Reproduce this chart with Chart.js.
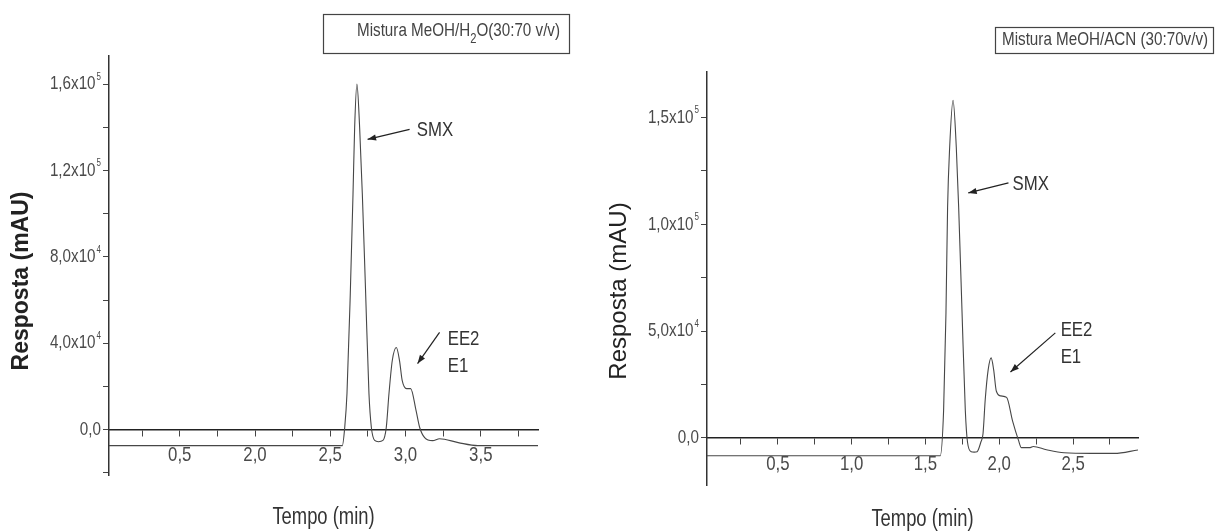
<!DOCTYPE html>
<html>
<head>
<meta charset="utf-8">
<script src="https://cdn.jsdelivr.net/npm/chart.js@4.4.1/dist/chart.umd.min.js"></script>
<style>
  body { margin: 0; background: #fff; }
  .wrap { position: absolute; top: 0; height: 531px; }
  #h2o-wrap { left: 0; width: 600px; }
  #acn-wrap { left: 600px; width: 615px; }
</style>
</head>
<body>
<div class="wrap" id="h2o-wrap"><canvas id="h2o-chart"></canvas></div>
<div class="wrap" id="acn-wrap"><canvas id="acn-chart"></canvas></div>
<script>
// MeOH/H2O run (left)
const timeH2O = [1.03, 2.58, 2.596, 2.611, 2.633, 2.651, 2.662, 2.677, 2.695, 2.713, 2.735, 2.757, 2.773,
  2.795, 2.82, 2.85, 2.872, 2.89, 2.912, 2.939, 2.96, 2.978, 3.007, 3.034, 3.07, 3.094, 3.127,
  3.18, 3.226, 3.35, 3.48, 3.88];
const respH2O = [-7400, -7400, 1000, 16700, 63000, 109000, 140000, 160000, 140000, 109000, 63000, 16700, 1000,
  -5000, -5600, -5000, 1000, 16700, 32000, 38000, 32000, 22700, 19000, 19000, 8800, 1000, -3700,
  -5100, -4200, -6000, -7400, -7400];
const xTicksH2O = [1.5, 2.0, 2.5, 3.0, 3.5];
const xLabelsH2O = ["0,5", "2,0", "2,5", "3,0", "3,5"];
const yTicksH2O = [0, 40000, 80000, 120000, 160000];
const yLabelsH2O = ["0,0", "4,0x10^4", "8,0x10^4", "1,2x10^5", "1,6x10^5"];

// MeOH/ACN run (right)
const timeACN = [0.02, 1.60, 1.623, 1.639, 1.650, 1.664, 1.687, 1.709, 1.725, 1.748, 1.77, 1.785, 1.81,
  1.83, 1.85, 1.875, 1.89, 1.905, 1.925, 1.945, 1.962, 1.98, 2.01, 2.05, 2.09, 2.13, 2.15, 2.21,
  2.23, 2.32, 2.44, 2.62, 2.78, 2.94];
const respACN = [-8300, -8300, 13000, 58500, 108000, 136000, 158000, 136000, 108000, 58500, 13000, -2000, -6400,
  -6600, -6400, -2000, 2000, 18000, 32000, 37500, 32000, 22000, 19700, 19000, 8000, -1000, -4500, -4500,
  -4000, -5500, -6900, -7200, -7200, -5600];
const xTicksACN = [0.5, 1.0, 1.5, 2.0, 2.5];
const xLabelsACN = ["0,5", "1,0", "1,5", "2,0", "2,5"];
const yTicksACN = [0, 50000, 100000, 150000];
const yLabelsACN = ["0,0", "5,0x10^4", "1,0x10^5", "1,5x10^5"];

const ARIAL = "'Liberation Sans', Arial, sans-serif";

// majors plus a minor tick halfway between each pair, kept inside the axis range
function withMinors(majors, min, max) {
  const step = majors[1] - majors[0];
  const out = [];
  majors.forEach(v => { out.push(v - step / 2); out.push(v); });
  out.push(majors[majors.length - 1] + step / 2);
  return out.filter(v => v >= min && v <= max);
}

// condensed text (the original uses a narrow face)
function narrow(ctx, text, x, y, size, align) {
  ctx.save();
  ctx.translate(x, y);
  ctx.scale(0.8, 1);
  ctx.font = size + "px " + ARIAL;
  ctx.textAlign = align;
  ctx.textBaseline = "middle";
  ctx.fillText(text, 0, 0);
  const w = ctx.measureText(text).width * 0.8;
  ctx.restore();
  return w;
}

function textWidth(ctx, text, size) {
  ctx.save();
  ctx.font = size + "px " + ARIAL;
  const w = ctx.measureText(text).width * 0.8;
  ctx.restore();
  return w;
}

const overlay = {
  id: "overlay",
  afterDraw(chart, args, o) {
    const { ctx, chartArea } = chart;
    const xs = chart.scales.x, ys = chart.scales.y;
    ctx.save();

    // tick labels
    ctx.fillStyle = "#4a4a4a";
    const zeroY = ys.getPixelForValue(0);
    o.xTicks.forEach((v, i) => {
      narrow(ctx, o.xLabels[i], xs.getPixelForValue(v), zeroY + 26, 21, "center");
    });
    o.yTicks.forEach((v, i) => {
      const [base, exp] = o.yLabels[i].split("^");
      const right = chartArea.left - 8;
      const py = ys.getPixelForValue(v);
      let ew = 0;
      if (exp) {
        ew = textWidth(ctx, exp, 10) + 1;
        narrow(ctx, exp, right, py - 7, 10, "right");
      }
      narrow(ctx, base, right - ew, py, 19, "right");
    });

    // legend box
    ctx.strokeStyle = "#444";
    ctx.lineWidth = 1.2;
    ctx.strokeRect(o.box[0] + 0.5, o.box[1] + 0.5, o.box[2] - o.box[0], o.box[3] - o.box[1]);
    ctx.fillStyle = "#444";
    let tx = o.boxTextX;
    o.boxText.forEach(([t, sub]) => {
      const size = sub ? Math.round(o.boxFont * 0.75) : o.boxFont;
      tx += narrow(ctx, t, tx, o.boxTextY + (sub ? 8 : 0), size, "left");
    });

    // axis titles
    ctx.fillStyle = "#333";
    narrow(ctx, "Tempo (min)", (chartArea.left + chartArea.right) / 2, o.xTitleY, 23, "center");
    ctx.save();
    ctx.translate(o.yTitleX, o.yTitleY);
    ctx.rotate(-Math.PI / 2);
    ctx.fillStyle = "#222";
    ctx.textAlign = "center";
    ctx.textBaseline = "middle";
    ctx.font = (o.yTitleBold ? "bold 23px " : "24px ") + ARIAL;
    ctx.fillText("Resposta (mAU)", 0, 0);
    ctx.restore();

    // peak labels with arrows
    o.notes.forEach(n => {
      const x0 = xs.getPixelForValue(n.from[0]), y0 = ys.getPixelForValue(n.from[1]);
      const x1 = xs.getPixelForValue(n.to[0]), y1 = ys.getPixelForValue(n.to[1]);
      ctx.strokeStyle = "#222";
      ctx.lineWidth = 1.2;
      ctx.beginPath();
      ctx.moveTo(x0, y0);
      ctx.lineTo(x1, y1);
      ctx.stroke();
      const a = Math.atan2(y1 - y0, x1 - x0);
      ctx.fillStyle = "#222";
      ctx.beginPath();
      ctx.moveTo(x1, y1);
      ctx.lineTo(x1 - 9 * Math.cos(a - 0.35), y1 - 9 * Math.sin(a - 0.35));
      ctx.lineTo(x1 - 9 * Math.cos(a + 0.35), y1 - 9 * Math.sin(a + 0.35));
      ctx.closePath();
      ctx.fill();
      ctx.fillStyle = "#333";
      n.text.forEach((t, i) => {
        narrow(ctx, t, xs.getPixelForValue(n.at[0]), ys.getPixelForValue(n.at[1]) + i * 27, 21, "left");
      });
    });
    ctx.restore();
  }
};

function makeChart(id, cfg) {
  const ctx = document.getElementById(id).getContext("2d");
  return new Chart(ctx, {
    type: "line",
    data: {
      datasets: [
        {
          data: cfg.times.map((t, i) => ({ x: t, y: cfg.resp[i] })),
          borderColor: "#474747",
          borderWidth: 1.1,
          pointRadius: 0,
          cubicInterpolationMode: "monotone",
        },
      ],
    },
    options: {
      responsive: true,
      maintainAspectRatio: false,
      animation: false,
      layout: { padding: cfg.padding },
      plugins: {
        legend: { display: false },
        tooltip: { enabled: false },
        overlay: {
          xTicks: cfg.xTicks, xLabels: cfg.xLabels,
          yTicks: cfg.yTicks, yLabels: cfg.yLabels,
          ...cfg.overlay,
        },
      },
      scales: {
        x: {
          type: "linear",
          position: { y: 0 },
          min: cfg.xMin,
          max: cfg.xMax,
          afterBuildTicks: s => {
            s.ticks = withMinors(cfg.xTicks, cfg.xMin, cfg.xMax).map(v => ({ value: v }));
          },
          ticks: { display: false },
          grid: { drawOnChartArea: false, tickLength: 6, tickColor: "#444" },
          border: { display: true, color: "#222", width: 1.5 },
        },
        y: {
          type: "linear",
          min: cfg.yMin,
          max: cfg.yMax,
          afterBuildTicks: s => {
            s.ticks = withMinors(cfg.yTicks, cfg.yMin, cfg.yMax).map(v => ({ value: v }));
          },
          afterFit: s => { s.width = cfg.axisWidth; },
          ticks: { display: false },
          grid: { drawOnChartArea: false, tickLength: 6, tickColor: "#444" },
          border: { display: true, color: "#333", width: 1.5 },
        },
      },
    },
    plugins: [overlay],
  });
}

makeChart("h2o-chart", {
  times: timeH2O, resp: respH2O,
  xTicks: xTicksH2O, xLabels: xLabelsH2O, yTicks: yTicksH2O, yLabels: yLabelsH2O,
  xMin: 1.03, xMax: 3.88, yMin: -21000, yMax: 173000,
  axisWidth: 109,
  padding: { top: 56, bottom: 56, left: 0, right: 62 },
  overlay: {
    box: [323, 14, 569, 53], boxFont: 19, boxTextX: 357, boxTextY: 31,
    boxText: [["Mistura MeOH/H", 0], ["2", 1], ["O(30:70 v/v)", 0]],
    xTitleY: 518, yTitleX: 22, yTitleY: 281, yTitleBold: true,
    notes: [
      { text: ["SMX"], at: [3.074, 138600], from: [3.027, 139000], to: [2.748, 134400] },
      { text: ["EE2", "E1"], at: [3.28, 42000], from: [3.226, 45000], to: [3.08, 30600] },
    ],
  },
});

makeChart("acn-chart", {
  times: timeACN, resp: respACN,
  xTicks: xTicksACN, xLabels: xLabelsACN, yTicks: yTicksACN, yLabels: yLabelsACN,
  xMin: 0.02, xMax: 2.94, yMin: -22000, yMax: 171300,
  axisWidth: 107,
  padding: { top: 72, bottom: 46, left: 0, right: 77 },
  overlay: {
    box: [395, 27, 613, 53], boxFont: 19, boxTextX: 402, boxTextY: 40,
    boxText: [["Mistura MeOH/ACN (30:70v/v)", 0]],
    xTitleY: 520, yTitleX: 19, yTitleY: 291, yTitleBold: false,
    notes: [
      { text: ["SMX"], at: [2.09, 118900], from: [2.0625, 119400], to: [1.79, 114700] },
      { text: ["EE2", "E1"], at: [2.416, 50500], from: [2.38, 49200], to: [2.076, 30900] },
    ],
  },
});
</script>
</body>
</html>
